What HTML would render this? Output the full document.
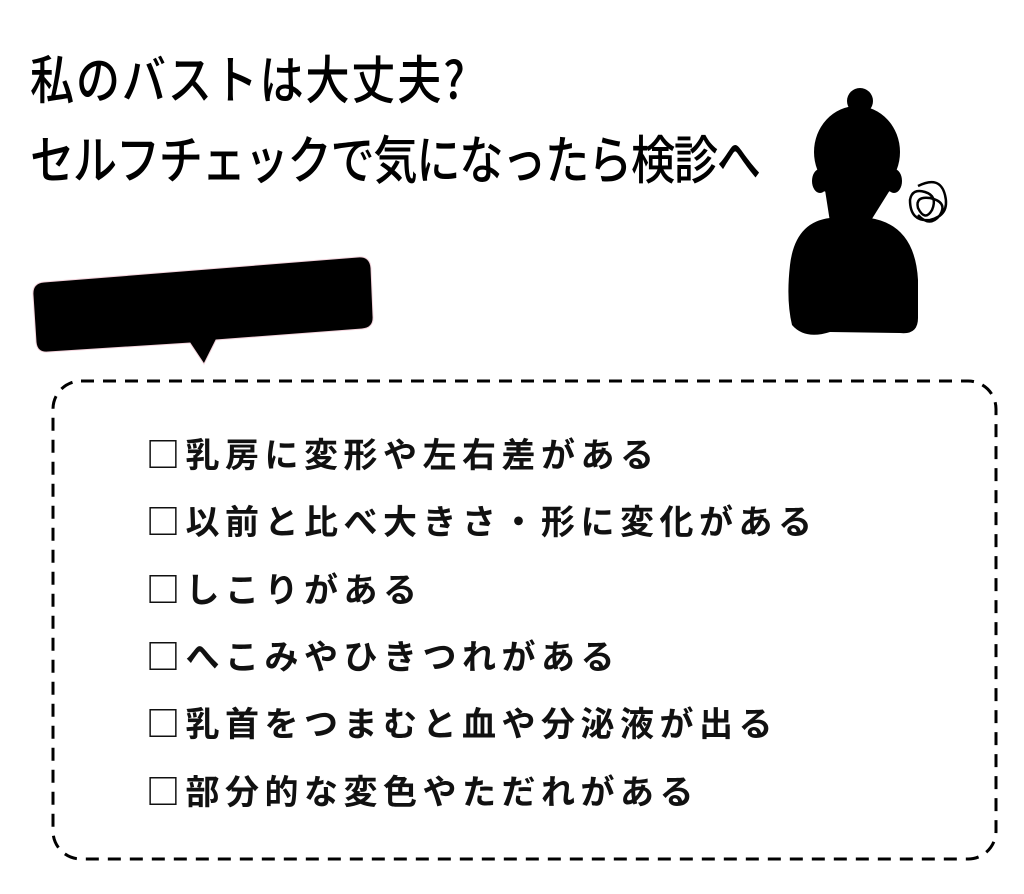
<!DOCTYPE html>
<html><head><meta charset="utf-8"><style>
body{margin:0;width:1024px;height:894px;background:#fff;overflow:hidden;position:relative;font-family:"Liberation Sans","Noto Sans CJK JP",sans-serif;}
.t{position:absolute;left:30px;font-family:"Noto Sans CJK JP",sans-serif;font-weight:500;color:#000;white-space:nowrap;font-size:52px;line-height:1;transform:scaleX(0.85);transform-origin:0 0;}
.c{position:absolute;left:146px;font-family:"Noto Sans CJK JP",sans-serif;font-weight:700;font-size:34px;letter-spacing:5.5px;line-height:1;white-space:nowrap;color:#111;}
svg{position:absolute;left:0;top:0;}
</style></head><body>
<svg width="1024" height="894">
<path d="M44,282 L358,257 Q370,256 371,268 L373,316 Q374,328 362,329 L216,340 L204,364 L190,343 L48,352 Q37,353 36,342 L33,295 Q32,283 44,282 Z" fill="#000" stroke="#f3d3dc" stroke-width="1"/>
<rect x="53" y="381" width="943" height="478" rx="28" fill="none" stroke="#000" stroke-width="3" stroke-dasharray="13 9"/>
<g fill="#000">
<circle cx="860" cy="101" r="13"/>
<ellipse cx="857" cy="152" rx="43" ry="46"/>
<rect x="818" y="150" width="78" height="42" rx="10"/>
<ellipse cx="820" cy="181" rx="8" ry="12"/>
<ellipse cx="894" cy="181" rx="8" ry="12"/>
<path d="M825,190 L890,190 L870,222 L830,222 Z"/>
<path d="M830,218 L870,218 Q915,225 918,280 L918,318 Q918,335 900,333 L830,332 Q805,340 792,325 Q786,300 790,265 Q795,222 830,218 Z"/>
</g>
<g fill="none" stroke="#000" stroke-width="2.5">
<path d="M918,186 Q940,175 945,195 Q950,215 930,220 Q910,222 910,200 Q912,188 925,192 Q938,196 932,210 Q925,222 918,208 Q915,196 930,198 Q948,202 940,215 Q930,228 918,215"/>
</g>
</svg>
<div class="t" style="top:51px;letter-spacing:2px;">私のバストは大丈夫?</div>
<div class="t" style="top:131px;letter-spacing:-1.5px;">セルフチェックで気になったら検診へ</div>
<div class="c" style="top:436px;">□乳房に変形や左右差がある</div>
<div class="c" style="top:503px;">□以前と比べ大きさ・形に変化がある</div>
<div class="c" style="top:571px;">□しこりがある</div>
<div class="c" style="top:638px;">□へこみやひきつれがある</div>
<div class="c" style="top:705px;">□乳首をつまむと血や分泌液が出る</div>
<div class="c" style="top:773px;">□部分的な変色やただれがある</div>
</body></html>
